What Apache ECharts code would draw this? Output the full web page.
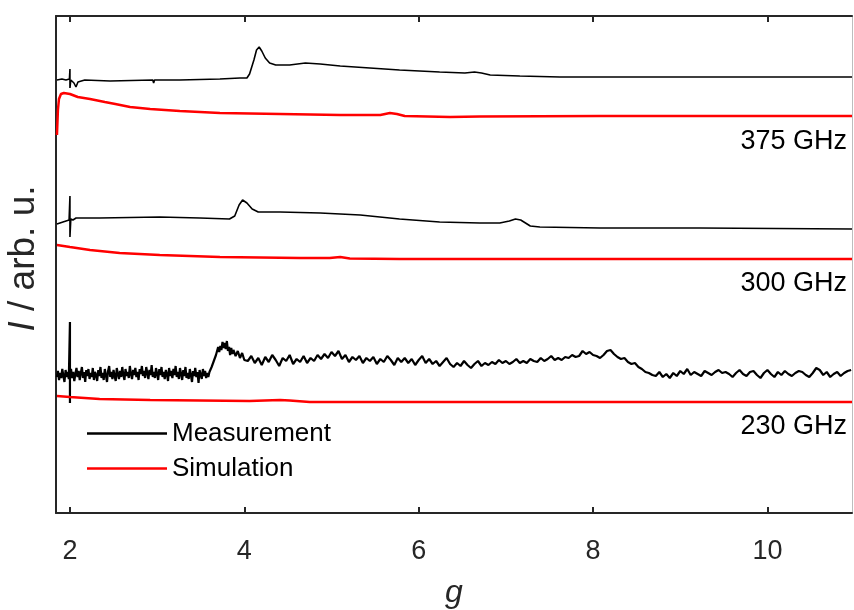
<!DOCTYPE html>
<html>
<head>
<meta charset="utf-8">
<script src="https://cdn.jsdelivr.net/npm/echarts@6/dist/echarts.min.js"></script>
<style>
  html, body { margin: 0; padding: 0; background: #fff; }
  #chart { width: 854px; height: 610px; }
</style>
</head>
<body>
<div id="chart"></div>
<script>
// g values and intensities (arb. u.), each trace carries its own offset
const gTicks = [2, 4, 6, 8, 10];
const freqLabels = ['375 GHz', '300 GHz', '230 GHz'];

const meas375 = [
  [1.851, 433], [1.908, 434], [1.954, 433], [1.994, 434], [2.0, 444], [2.0, 425], [2.01, 433],
  [2.046, 430], [2.069, 426], [2.092, 431], [2.17, 433], [2.46, 432], [2.95, 433],
  [2.96, 435], [2.96, 430], [2.97, 433], [3.26, 433], [3.72, 434], [3.95, 435], [4.03, 435],
  [4.06, 439], [4.11, 453], [4.14, 463], [4.17, 466], [4.20, 462], [4.24, 455], [4.29, 450],
  [4.36, 448], [4.52, 448], [4.70, 450], [4.87, 449], [5.10, 447], [5.44, 445], [5.78, 443],
  [6.24, 441], [6.53, 440], [6.64, 441], [6.72, 440], [6.82, 438], [7.16, 437], [7.62, 436],
  [8.31, 436], [9.22, 436], [10.14, 436], [10.97, 436]
];
const sim375 = [
  [1.851, 378], [1.862, 403], [1.874, 414], [1.897, 419], [1.93, 420], [2.0, 419], [2.09, 416],
  [2.23, 414], [2.40, 411], [2.52, 409], [2.69, 406], [2.92, 404], [3.26, 402], [3.72, 400],
  [4.41, 399], [5.10, 398], [5.56, 398], [5.67, 400], [5.75, 399], [5.84, 397], [6.36, 396],
  [6.70, 396.5], [8.08, 397], [10.97, 397]
];
const meas300 = [
  [1.851, 289], [1.92, 291], [1.99, 293], [2.0, 317], [2.0, 276], [2.01, 294], [2.034, 293],
  [2.07, 295], [2.34, 295], [3.03, 296], [3.49, 295], [3.83, 294], [3.89, 297], [3.94, 308],
  [3.98, 313], [4.03, 310], [4.09, 304], [4.16, 301], [4.41, 301], [4.87, 300], [5.33, 298],
  [5.78, 294], [6.24, 291], [6.70, 290], [6.93, 290], [7.04, 292], [7.11, 294], [7.17, 293],
  [7.28, 287], [7.39, 286], [8.08, 285], [9.22, 285], [10.97, 284]
];
const sim300 = [
  [1.851, 268], [2.0, 266], [2.23, 263], [2.57, 260], [3.03, 258], [3.72, 256], [4.64, 255],
  [4.98, 255], [5.10, 256], [5.21, 254.5], [5.78, 254], [10.97, 254]
];
const meas230 = [
  [1.850, 136], [1.862, 142], [1.875, 133], [1.887, 140], [1.900, 135], [1.912, 144],
  [1.925, 137], [1.937, 131], [1.950, 143], [1.962, 136], [1.975, 141], [1.987, 134],
  [2.0, 191], [2.0, 110], [2.0, 138], [2.012, 144], [2.025, 135], [2.037, 141], [2.050, 132],
  [2.062, 139], [2.075, 145], [2.087, 136], [2.100, 142], [2.112, 133], [2.125, 140],
  [2.137, 146], [2.150, 135], [2.162, 141], [2.175, 131], [2.187, 143], [2.200, 137],
  [2.212, 144], [2.225, 134], [2.237, 140], [2.250, 136], [2.262, 145], [2.275, 133],
  [2.287, 141], [2.300, 138], [2.312, 132], [2.325, 143], [2.337, 137], [2.350, 146],
  [2.362, 135], [2.375, 140], [2.387, 133], [2.400, 144], [2.412, 138], [2.425, 131],
  [2.437, 142], [2.450, 147], [2.462, 136], [2.475, 141], [2.487, 134], [2.500, 143],
  [2.512, 137], [2.525, 132], [2.537, 145], [2.550, 139], [2.562, 134], [2.575, 142],
  [2.587, 136], [2.600, 146], [2.612, 138], [2.625, 133], [2.637, 144], [2.650, 137],
  [2.662, 141], [2.675, 135], [2.687, 147], [2.700, 139], [2.712, 134], [2.725, 143],
  [2.737, 138], [2.750, 145], [2.762, 136], [2.775, 141], [2.787, 133], [2.800, 144],
  [2.812, 139], [2.825, 147], [2.837, 137], [2.850, 142], [2.862, 135], [2.875, 146],
  [2.887, 140], [2.900, 134], [2.912, 143], [2.925, 138], [2.937, 148], [2.950, 136],
  [2.962, 141], [2.975, 135], [2.987, 145], [3.000, 139], [3.012, 133], [3.025, 144],
  [3.037, 138], [3.050, 146], [3.062, 136], [3.075, 141], [3.087, 134], [3.100, 143],
  [3.112, 139], [3.125, 132], [3.137, 145], [3.150, 137], [3.162, 142], [3.175, 135],
  [3.187, 144], [3.200, 138], [3.212, 147], [3.225, 136], [3.237, 141], [3.250, 134],
  [3.262, 145], [3.275, 139], [3.287, 133], [3.300, 143], [3.312, 137], [3.325, 146],
  [3.337, 135], [3.350, 140], [3.362, 134], [3.375, 144], [3.387, 138], [3.400, 131],
  [3.412, 142], [3.425, 137], [3.437, 145], [3.450, 136], [3.462, 141], [3.475, 130],
  [3.487, 143], [3.500, 138], [3.512, 134], [3.525, 144], [3.537, 137], [3.550, 142],
  [3.562, 135], [3.575, 140], [3.587, 136], [3.600, 141],
  [3.625, 146], [3.650, 152], [3.675, 158], [3.700, 166], [3.712, 161], [3.725, 167],
  [3.737, 163], [3.750, 171], [3.762, 165], [3.775, 170], [3.787, 164], [3.800, 172],
  [3.812, 162], [3.825, 166], [3.837, 158], [3.850, 165], [3.862, 159], [3.875, 163],
  [3.900, 157], [3.925, 162], [3.950, 155], [3.975, 160], [4.000, 153],
  [4.04, 152], [4.08, 157], [4.12, 150], [4.16, 155], [4.20, 148], [4.24, 156], [4.28, 151],
  [4.32, 158], [4.36, 153], [4.40, 147], [4.44, 155], [4.48, 152], [4.52, 158], [4.56, 149],
  [4.60, 154], [4.64, 151], [4.68, 157], [4.72, 150], [4.76, 155], [4.80, 152], [4.84, 158],
  [4.88, 154], [4.92, 159], [4.96, 155], [5.00, 161], [5.04, 157], [5.08, 162], [5.12, 154],
  [5.16, 158], [5.20, 151], [5.24, 156], [5.28, 153], [5.32, 157], [5.36, 150], [5.40, 155],
  [5.44, 152], [5.48, 156], [5.52, 149], [5.56, 154], [5.60, 151], [5.64, 157], [5.68, 153],
  [5.72, 148], [5.76, 155], [5.80, 151], [5.84, 155], [5.88, 150], [5.92, 154], [5.96, 148],
  [6.00, 153], [6.04, 157], [6.08, 150], [6.12, 154], [6.16, 149], [6.20, 152], [6.24, 147],
  [6.28, 151], [6.32, 155], [6.36, 149], [6.40, 146], [6.44, 150], [6.48, 147], [6.52, 152],
  [6.56, 148], [6.60, 145], [6.64, 149], [6.68, 152], [6.72, 147], [6.76, 150], [6.80, 148],
  [6.84, 151], [6.88, 149], [6.92, 153], [6.96, 150], [7.00, 152], [7.04, 149], [7.08, 151],
  [7.12, 154], [7.16, 150], [7.20, 152], [7.24, 150], [7.28, 154], [7.32, 152], [7.36, 151],
  [7.40, 155], [7.44, 152], [7.48, 154], [7.52, 157], [7.56, 153], [7.60, 155], [7.64, 153],
  [7.68, 156], [7.72, 155], [7.76, 158], [7.80, 156], [7.84, 157], [7.88, 162], [7.92, 159],
  [7.96, 161], [8.00, 158], [8.04, 157], [8.08, 155], [8.12, 158], [8.16, 162], [8.20, 163],
  [8.24, 159], [8.28, 156], [8.32, 154], [8.36, 155], [8.40, 151], [8.44, 149], [8.48, 150],
  [8.52, 146], [8.56, 144], [8.60, 141], [8.64, 140], [8.68, 138], [8.72, 137], [8.76, 141],
  [8.80, 136], [8.84, 139], [8.88, 135], [8.92, 140], [8.96, 137], [9.00, 142], [9.04, 139],
  [9.08, 144], [9.12, 138], [9.16, 141], [9.20, 139], [9.24, 137], [9.28, 142], [9.32, 140],
  [9.36, 138], [9.40, 141], [9.44, 143], [9.48, 140], [9.52, 141], [9.56, 139], [9.60, 136],
  [9.64, 140], [9.68, 143], [9.72, 139], [9.76, 137], [9.80, 141], [9.84, 142], [9.88, 138],
  [9.92, 135], [9.96, 140], [10.00, 143], [10.04, 139], [10.08, 136], [10.12, 141],
  [10.16, 138], [10.20, 142], [10.24, 139], [10.28, 137], [10.32, 140], [10.36, 142],
  [10.40, 141], [10.44, 138], [10.48, 136], [10.52, 140], [10.56, 145], [10.60, 143],
  [10.64, 138], [10.68, 141], [10.72, 136], [10.76, 139], [10.80, 141], [10.84, 137],
  [10.88, 140], [10.92, 142], [10.96, 143]
];
const sim230 = [
  [1.851, 117], [2.0, 116], [2.34, 114], [2.92, 113], [4.06, 112], [4.41, 113], [4.52, 112.5],
  [4.75, 111], [10.97, 111]
];

const FONT = '"Liberation Sans", Arial, Helvetica, sans-serif';
const AXIS = '#262626';

const chart = echarts.init(document.getElementById('chart'), null, { renderer: 'canvas' });

function line(name, data, color, width) {
  return {
    name: name,
    type: 'line',
    data: data,
    symbol: 'none',
    smooth: false,
    lineStyle: { color: color, width: width },
    itemStyle: { color: color },
    z: name === 'Simulation' ? 3 : 2
  };
}

const xCommon = {
  type: 'value',
  min: 1.84,
  max: 10.97,
  splitLine: { show: false },
  axisLine: { show: true, onZero: false, lineStyle: { color: AXIS, width: 2 } },
  axisTick: { show: true, inside: true, length: 6, customValues: gTicks, lineStyle: { color: AXIS, width: 2 } }
};

const option = {
  animation: false,
  backgroundColor: '#fff',
  grid: { left: 56, right: 2, top: 16, bottom: 97, containLabel: false, outerBoundsMode: 'none' },
  xAxis: [
    Object.assign({}, xCommon, {
      position: 'bottom',
      name: 'g',
      nameLocation: 'middle',
      nameGap: 64,
      nameTextStyle: { fontFamily: FONT, fontSize: 32, fontStyle: 'italic', color: '#262626' },
      axisLabel: {
        show: true, customValues: gTicks, margin: 25,
        fontFamily: FONT, fontSize: 27, color: '#262626'
      }
    }),
    Object.assign({}, xCommon, {
      position: 'top',
      axisLabel: { show: false }
    })
  ],
  yAxis: [
    {
      type: 'value',
      min: 0,
      max: 497,
      position: 'left',
      splitLine: { show: false },
      axisTick: { show: false },
      axisLabel: { show: false },
      axisLine: { show: true, lineStyle: { color: AXIS, width: 2 } },
      name: '{i|I} / arb. u.',
      nameLocation: 'middle',
      nameGap: 14,
      nameTextStyle: {
        fontFamily: FONT, fontSize: 37, color: '#262626', padding: [0, 0, 0, 12],
        rich: { i: { fontFamily: FONT, fontSize: 37, fontStyle: 'italic', color: '#262626' } }
      }
    },
    {
      type: 'value',
      min: 0,
      max: 497,
      position: 'right',
      splitLine: { show: false },
      axisTick: { show: false },
      axisLabel: { show: false },
      axisLine: { show: true, lineStyle: { color: '#bdbdbd', width: 1 } }
    }
  ],
  legend: {
    orient: 'vertical',
    left: 87,
    top: 420,
    padding: 0,
    icon: 'rect',
    itemWidth: 80,
    itemHeight: 2.5,
    itemGap: 8,
    data: ['Measurement', 'Simulation'],
    textStyle: { fontFamily: FONT, fontSize: 26, lineHeight: 27, color: '#000' }
  },
  graphic: [
    { type: 'text', right: 7, top: 128, style: { text: freqLabels[0], fontFamily: FONT, fontSize: 27, fill: '#000' } },
    { type: 'text', right: 7, top: 270, style: { text: freqLabels[1], fontFamily: FONT, fontSize: 27, fill: '#000' } },
    { type: 'text', right: 7, top: 413, style: { text: freqLabels[2], fontFamily: FONT, fontSize: 27, fill: '#000' } }
  ],
  series: [
    line('Measurement', meas375, '#000000', 1.6),
    line('Simulation', sim375, '#ff0000', 2.5),
    line('Measurement', meas300, '#000000', 1.6),
    line('Simulation', sim300, '#ff0000', 2.5),
    line('Measurement', meas230, '#000000', 2.2),
    line('Simulation', sim230, '#ff0000', 2.5)
  ]
};

chart.setOption(option);
</script>
</body>
</html>
